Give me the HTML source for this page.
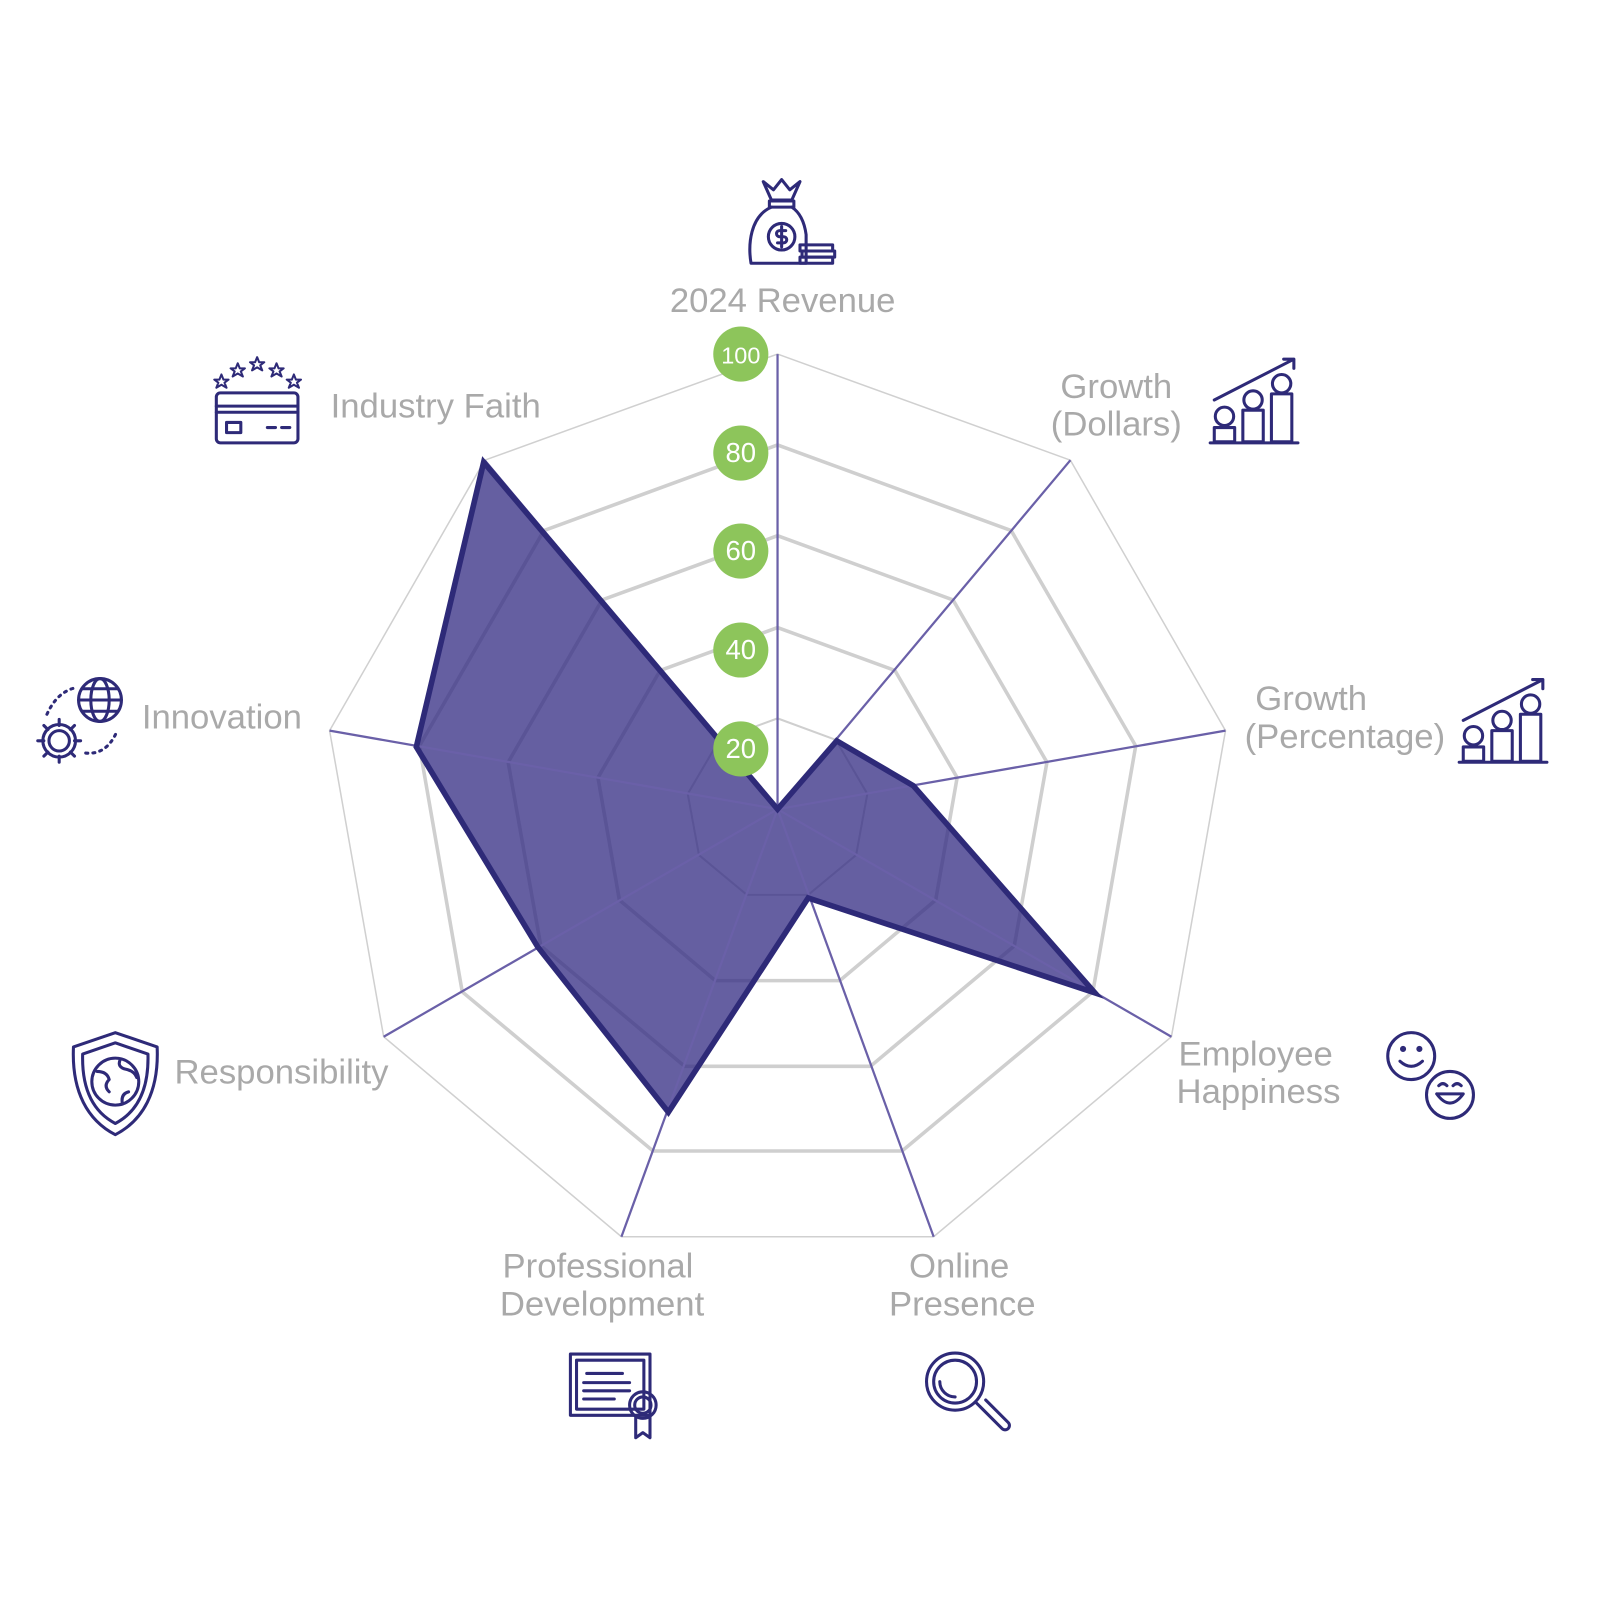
<!DOCTYPE html>
<html><head><meta charset="utf-8"><style>
html,body{margin:0;padding:0;background:#fff;width:1600px;height:1600px;overflow:hidden}
text{font-family:"Liberation Sans",sans-serif}
.lb{fill:#a9a9a9;font-size:34px}
.ic{fill:none;stroke:#2e2a78;stroke-width:3;stroke-linecap:round;stroke-linejoin:round}
</style></head><body>
<svg width="1600" height="1600" viewBox="0 0 1600 1600">
<g transform="scale(1.0204)">
<g fill="none">
<polygon points="762,347 1049,451 1201,716 1148,1016 915,1212 609,1212 376,1016 323,716 475,451" stroke="#d0d0d0" stroke-width="1.5"/>
<polygon points="762,436 991,520 1113,731 1071,972 884,1128 640,1128 453,972 411,731 533,520" stroke="#cfcfcf" stroke-width="3.5"/>
<polygon points="762,525 934,588 1026,747 994,927 853,1045 671,1045 530,927 498,747 590,588" stroke="#cfcfcf" stroke-width="3.5"/>
<polygon points="762,615 877,657 938,762 917,882 823,961 701,961 607,882 586,762 647,657" stroke="#cfcfcf" stroke-width="3.5"/>
<polygon points="762,704 819,725 850,778 839,838 792,877 732,877 685,838 674,778 705,725" stroke="#cfcfcf" stroke-width="2"/>
</g>
<polygon points="762,793 820,726 895,770 1073,973 792,880 655,1090 527,928 408,732 474,453" fill="rgba(52,45,132,0.76)" stroke="none"/>
<g stroke="#6a60a8" stroke-width="2.2">
<line x1="762" y1="793" x2="762" y2="347"/><line x1="762" y1="793" x2="1049" y2="451"/>
<line x1="762" y1="793" x2="1201" y2="716"/><line x1="762" y1="793" x2="1148" y2="1016"/>
<line x1="762" y1="793" x2="915" y2="1212"/><line x1="762" y1="793" x2="609" y2="1212"/>
<line x1="762" y1="793" x2="376" y2="1016"/><line x1="762" y1="793" x2="323" y2="716"/>
<line x1="762" y1="793" x2="475" y2="451"/>
</g>
<polygon points="762,793 820,726 895,770 1073,973 792,880 655,1090 527,928 408,732 474,453" fill="none" stroke="#2e2a78" stroke-width="5.5" stroke-linejoin="miter"/>
<g fill="#8dc55b"><circle cx="726" cy="347" r="27"/><circle cx="726" cy="444" r="27"/><circle cx="726" cy="540" r="27"/><circle cx="726" cy="637" r="27"/><circle cx="726" cy="734" r="27"/></g>
<g fill="#fff" font-size="27" text-anchor="middle">
<text x="726" y="356" font-size="23">100</text><text x="726" y="453">80</text><text x="726" y="549">60</text><text x="726" y="646">40</text><text x="726" y="743">20</text></g>
<g class="lb">
<text x="767" y="306" text-anchor="middle">2024 Revenue</text>
<text x="1094" y="390" text-anchor="middle">Growth</text><text x="1094" y="427" text-anchor="middle">(Dollars)</text>
<text x="1285" y="696" text-anchor="middle">Growth</text><text x="1318" y="733" text-anchor="middle">(Percentage)</text>
<text x="1155" y="1044">Employee</text><text x="1153" y="1081">Happiness</text>
<text x="940" y="1252" text-anchor="middle">Online</text><text x="943" y="1289" text-anchor="middle">Presence</text>
<text x="586" y="1252" text-anchor="middle">Professional</text><text x="590" y="1289" text-anchor="middle">Development</text>
<text x="171" y="1062">Responsibility</text>
<text x="139" y="714">Innovation</text>
<text x="324" y="409">Industry Faith</text>
</g>
<g class="ic">
<path d="M748,178 L758,186 L766,176 L774,186 L784,178 L776,196 L756,196 Z"/>
<rect x="754" y="197" width="24" height="6"/>
<path d="M756,203 C735,212 733,240 736,258 L790,258 L790,230 C788,215 782,207 776,203"/>
<circle cx="766" cy="232" r="13"/><path d="M770,226 h-6 a3,3 0 0 0 0,6 h4 a3,3 0 0 1 0,6 h-6 M766,222 v20"/>
<rect x="784" y="240" width="32" height="6"/><rect x="786" y="246" width="32" height="6"/><rect x="784" y="252" width="32" height="6"/>
<path d="M1190,392 L1268,352 M1258,352 h10 v9"/>
<line x1="1186" y1="434" x2="1272" y2="434"/>
<rect x="1190" y="419" width="20" height="14"/><rect x="1218" y="402" width="20" height="31"/><rect x="1246" y="386" width="20" height="47"/>
<circle cx="1200" cy="408" r="9"/><circle cx="1228" cy="392" r="9"/><circle cx="1256" cy="376" r="9"/>
<path d="M1434,706 L1512,666 M1502,666 h10 v9"/>
<line x1="1430" y1="747" x2="1516" y2="747"/>
<rect x="1434" y="732" width="20" height="14"/><rect x="1462" y="716" width="20" height="30"/><rect x="1490" y="700" width="20" height="46"/>
<circle cx="1444" cy="721" r="9"/><circle cx="1472" cy="706" r="9"/><circle cx="1500" cy="690" r="9"/>
<circle cx="1383" cy="1035" r="23"/><circle cx="1375" cy="1028" r="1.5"/><circle cx="1391" cy="1028" r="1.5"/><path d="M1372,1040 q11,10 22,0"/>
<circle cx="1421" cy="1073" r="23"/><path d="M1408,1072 h26 q-13,18 -26,0 M1410,1064 q4,-4 8,0 M1424,1064 q4,-4 8,0"/>
<circle cx="936" cy="1354" r="28"/><circle cx="936" cy="1354" r="21"/><path d="M921,1354 a15,15 0 0 0 15,15"/>
<path d="M956,1374 l8,8 M960,1378 l22,22 a4,4 0 0 0 6,-6 l-22,-22"/>
<rect x="559" y="1327" width="78" height="60"/><rect x="565" y="1333" width="66" height="48"/>
<path d="M575,1346 h35 M572,1355 h45 M572,1363 h45 M572,1371 h30"/>
<circle cx="630" cy="1377" r="13"/><circle cx="630" cy="1377" r="8"/><path d="M623,1389 v20 l7,-5 l7,5 v-20"/>
<path d="M113,1012 L154,1026 C156,1070 140,1098 113,1112 C86,1098 70,1070 72,1026 Z"/>
<path d="M113,1022 L145,1033 C146,1068 134,1090 113,1101 C92,1090 80,1068 81,1033 Z"/>
<circle cx="113" cy="1060" r="23"/><path d="M95,1050 q10,0 12,8 q-6,6 0,12 M118,1038 q-4,8 6,10 q8,2 10,8 M120,1082 q-2,-10 6,-12"/>
<circle cx="98" cy="686" r="21"/><ellipse cx="98" cy="686" rx="9" ry="21"/><path d="M77,686 h42 M81,675 h34 M81,697 h34"/>
<circle cx="58" cy="726" r="10"/><path d="M58,705 v6 M58,741 v6 M37,726 h6 M73,726 h6 M43,711 l4,4 M69,737 l4,4 M43,741 l4,-4 M69,715 l4,-4"/>
<circle cx="58" cy="726" r="16"/>
<path d="M46,700 q10,-22 28,-26 M84,738 q20,2 30,-20" stroke-dasharray="2,5"/>
<rect x="212" y="385" width="80" height="49" rx="4"/><path d="M212,398 h80 M212,404 h80"/><rect x="222" y="414" width="14" height="10"/><path d="M262,419 h8 M276,419 h8"/>
<path d="M217,367 l2,5 5,0 -4,3 2,5 -5,-3 -5,3 2,-5 -4,-3 5,0z M233,356 l2,5 5,0 -4,3 2,5 -5,-3 -5,3 2,-5 -4,-3 5,0z M252,350 l2,5 5,0 -4,3 2,5 -5,-3 -5,3 2,-5 -4,-3 5,0z M271,356 l2,5 5,0 -4,3 2,5 -5,-3 -5,3 2,-5 -4,-3 5,0z M288,367 l2,5 5,0 -4,3 2,5 -5,-3 -5,3 2,-5 -4,-3 5,0z" stroke-width="2"/>
</g>
</g>
</svg>
</body></html>
